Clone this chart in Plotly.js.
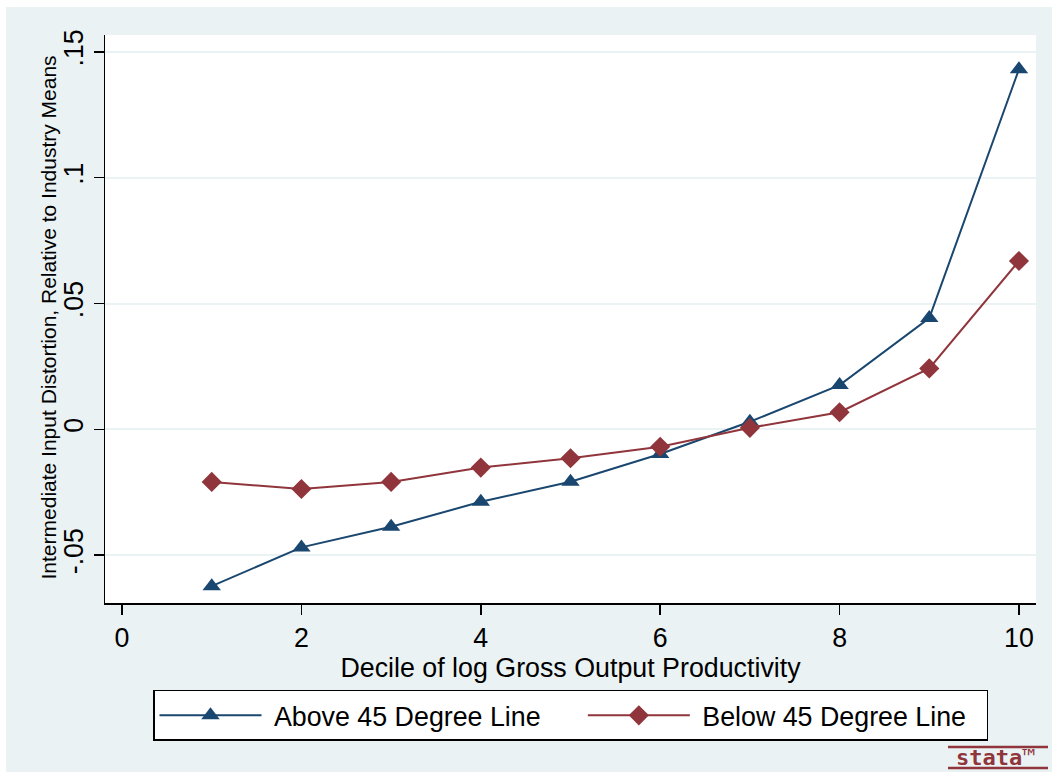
<!DOCTYPE html>
<html>
<head>
<meta charset="utf-8">
<script src="https://cdn.plot.ly/plotly-3.0.1.min.js"></script>
<style>
  html, body { margin: 0; padding: 0; background: #ffffff; }
  #chart { position: absolute; left: 6px; top: 7px; width: 1046px; height: 765px; }
</style>
</head>
<body>
<div id="chart"></div>
<script>
// Deciles of log gross output productivity
const deciles = [1, 2, 3, 4, 5, 6, 7, 8, 9, 10];

// Mean intermediate input distortion by decile, relative to industry means
const aboveLine = [-0.0623, -0.0469, -0.0387, -0.0288, -0.0208, -0.0098, 0.0030, 0.0176, 0.0442, 0.1431];
const belowLine = [-0.0209, -0.0237, -0.0209, -0.0152, -0.0115, -0.0069, 0.0006, 0.0068, 0.0242, 0.0669];

const seriesNames = ['Above 45 Degree Line', 'Below 45 Degree Line'];

const xTickVals = [0, 2, 4, 6, 8, 10];
const yTickVals = [-0.05, 0, 0.05, 0.1, 0.15];
const yTickText = ['-.05', '0', '.05', '.1', '.15'];

const xTitle = 'Decile of log Gross Output Productivity';
const yTitle = 'Intermediate Input Distortion, Relative to Industry Means';

const navy = '#1A476F';
const maroon = '#90353B';
const bluishGray = '#EAF2F3';
const FONT = 'Liberation Sans, Arial, Helvetica, sans-serif';
const NB = '\u00A0';

// legend labels padded with non-breaking spaces for wider spacing
const pad = n => NB.repeat(n);

const traces = [
  {
    x: deciles, y: aboveLine, name: pad(1) + seriesNames[0] + pad(5),
    type: 'scatter', mode: 'lines+markers',
    line: { color: navy, width: 2 },
    marker: { symbol: 'triangle-up', size: 16, color: navy }
  },
  {
    x: deciles, y: belowLine, name: pad(1) + seriesNames[1] + pad(2),
    type: 'scatter', mode: 'lines+markers',
    line: { color: maroon, width: 2 },
    marker: { symbol: 'diamond', size: 15.5, color: maroon }
  }
];

const layout = {
  width: 1046, height: 765,
  paper_bgcolor: bluishGray,
  plot_bgcolor: '#ffffff',
  margin: { l: 99, r: 16, t: 28, b: 169 },
  font: { family: FONT, color: '#000000', size: 26.8 },
  showlegend: true,
  xaxis: {
    range: [-0.19, 10.19],
    tickvals: xTickVals,
    ticks: 'outside', ticklen: 10, tickwidth: 1.5, tickcolor: '#000000',
    showgrid: false, zeroline: false,
    showline: true, linecolor: '#000000', linewidth: 1.5,
    tickfont: { size: 26.8 },
    title: { text: xTitle, font: { size: 26.8 }, standoff: 3 }
  },
  yaxis: {
    range: [-0.069, 0.1567],
    tickvals: yTickVals, ticktext: yTickText,
    tickangle: -90,
    ticks: 'outside', ticklen: 10, tickwidth: 1.5, tickcolor: '#000000',
    showgrid: true, gridcolor: bluishGray, gridwidth: 2,
    zeroline: false,
    showline: true, linecolor: '#000000', linewidth: 1.5,
    tickfont: { size: 26.8 }
  },
  legend: {
    orientation: 'h',
    x: 0.5, xanchor: 'center',
    y: -0.153, yanchor: 'top',
    bgcolor: '#ffffff', bordercolor: '#000000', borderwidth: 1.5,
    font: { size: 26.8 },
    itemwidth: 102,
    traceorder: 'normal'
  },
  annotations: [
    {
      // vertical axis title
      xref: 'paper', yref: 'paper', x: -0.0602, y: 0.5026,
      xanchor: 'center', yanchor: 'middle', showarrow: false,
      textangle: -90,
      text: yTitle, font: { family: FONT, size: 21, color: '#000000' }
    },
    {
      xref: 'paper', yref: 'paper', x: 0.956, y: -0.272,
      xanchor: 'center', yanchor: 'middle', showarrow: false,
      text: '<b>stata</b>™', font: { family: 'DejaVu Sans Mono, monospace', size: 22, color: maroon }
    }
  ],
  shapes: [
    { type: 'line', xref: 'paper', yref: 'paper', x0: 0.9055, x1: 1.0129, y0: -0.2535, y1: -0.2535,
      line: { color: maroon, width: 2.5 } },
    { type: 'line', xref: 'paper', yref: 'paper', x0: 0.9055, x1: 1.0129, y0: -0.2905, y1: -0.2905,
      line: { color: maroon, width: 2.5 } }
  ]
};

Plotly.newPlot('chart', traces, layout, { displayModeBar: false, staticPlot: true });
</script>
</body>
</html>
